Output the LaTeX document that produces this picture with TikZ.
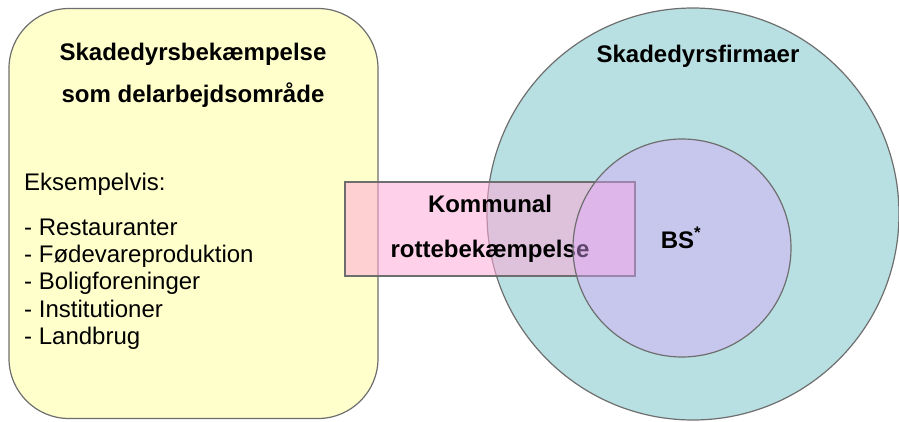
\documentclass[tikz,border=0pt]{standalone}
\usepackage{fontspec}
\setmainfont{Liberation Sans}
\definecolor{boxyellow}{RGB}{255,255,204}
\definecolor{firmteal}{RGB}{184,224,226}
\definecolor{ratpink}{RGB}{255,170,215}
\definecolor{bslilac}{RGB}{222,166,255}
\definecolor{edgegray}{RGB}{110,110,110}
\tikzset{
  shapeedge/.style={draw=edgegray, line width=1.2pt, inner sep=0pt, outer sep=0pt},
  txt/.style={inner sep=0pt, anchor=base, font=\fontsize{24}{28}\selectfont},
  head/.style={txt, font=\fontsize{24}{28}\selectfont\bfseries},
  item/.style={txt, anchor=base west},
}
\begin{document}
\begin{tikzpicture}[x=1pt, y=-1pt]
  \useasboundingbox (0,0) rectangle (899,421);

  % work area box on the left
  \node[shapeedge, fill=boxyellow, rounded corners=60pt,
        minimum width=369pt, minimum height=410pt] (area) at (193.5,213.5) {};

  % pest control companies
  \node[shapeedge, circle, fill=firmteal, minimum size=412pt] (firms) at (693,214) {};

  % municipal rat control, laid across both
  \node[shapeedge, fill=ratpink, fill opacity=0.55,
        minimum width=290pt, minimum height=94pt] (rats) at (490,229) {};
  \node[head] (ratsA) at (490,212) {Kommunal};
  \node[head] (ratsB) at (490,257) {rottebekæmpelse};

  % inner circle
  \node[shapeedge, circle, fill=bslilac, fill opacity=0.42, minimum size=218pt] (bs) at (682,248) {};
  \node[head] (bslabel) at (681,248) {BS\textsuperscript{*}};

  % headings
  \node[head] (areaA) at (193,60) {Skadedyrsbekæmpelse};
  \node[head] (areaB) at (193,102) {som delarbejdsområde};
  \node[head] (firmlabel) at (698,62) {Skadedyrsfirmaer};

  % examples
  \node[item] (ex) at (24,190) {Eksempelvis:};
  \node[item] (ex1) at (24,235) {- Restauranter};
  \node[item] (ex2) at (24,262) {- Fødevareproduktion};
  \node[item] (ex3) at (24,289) {- Boligforeninger};
  \node[item] (ex4) at (24,317) {- Institutioner};
  \node[item] (ex5) at (24,344) {- Landbrug};
\end{tikzpicture}
\end{document}
